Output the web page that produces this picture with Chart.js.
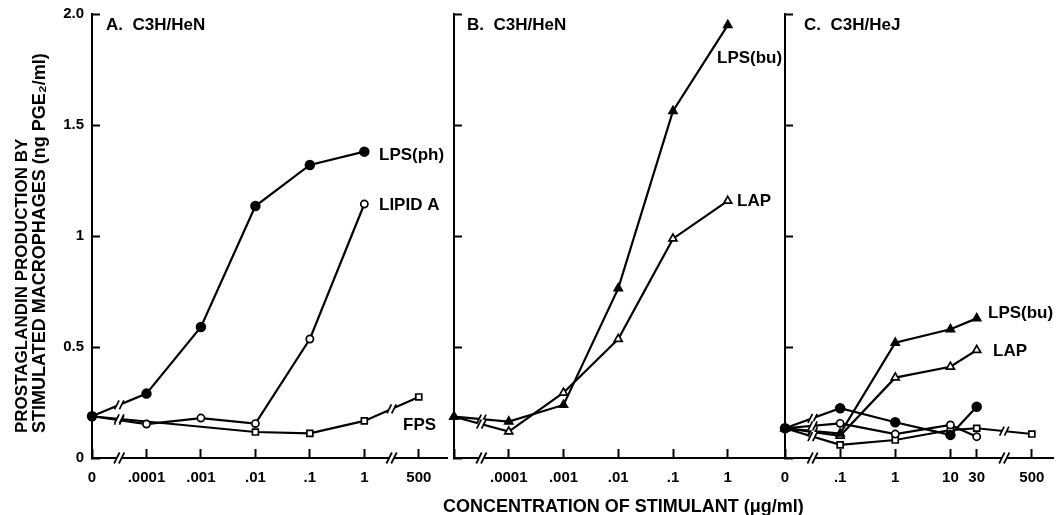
<!DOCTYPE html>
<html><head><meta charset="utf-8">
<script src="https://cdn.jsdelivr.net/npm/chart.js@4.4.0/dist/chart.umd.min.js"></script>
<style>
html,body{margin:0;padding:0;background:#fff;}
#wrap{position:relative;width:1060px;height:515px;overflow:hidden;background:#fff;}
canvas{position:absolute;top:0;}
#xtitle{position:absolute;left:443px;top:496px;width:380px;font:bold 18px "Liberation Sans",Arial,Helvetica,sans-serif;color:#000;white-space:nowrap;line-height:20px;}
</style></head><body>
<div id="wrap">
<canvas id="cA" style="left:0px;width:454px;height:515px" width="454" height="515"></canvas>
<canvas id="cB" style="left:444px;width:351px;height:515px" width="351" height="515"></canvas>
<canvas id="cC" style="left:775px;width:285px;height:515px" width="285" height="515"></canvas>
<div id="xtitle">CONCENTRATION OF STIMULANT (μg/ml)</div>
</div>
<script>
// ---------- data ----------
const concA = [0, 0.0001, 0.001, 0.01, 0.1, 1, 500];
const labelsA = ['0', '.0001', '.001', '.01', '.1', '1', '500'];
const lpsPhA = [0.188, 0.29, 0.59, 1.135, 1.32, 1.38, null];
const lipidAA = [0.188, 0.153, 0.18, 0.155, 0.536, 1.144, null];
const fpsA = [0.188, null, null, 0.117, 0.111, 0.167, 0.275];

const concB = [0, 0.0001, 0.001, 0.01, 0.1, 1];
const labelsB = ['', '.0001', '.001', '.01', '.1', '1'];
const lpsBuB = [0.186, 0.164, 0.239, 0.764, 1.563, 1.95];
const lapB = [0.186, 0.119, 0.294, 0.536, 0.988, 1.158];

const concC = [0, 0.1, 1, 10, 30, 500];
const labelsC = ['0', '.1', '1', '10', '30', '500'];
const lpsBuC = [0.134, 0.11, 0.519, 0.58, 0.629, null];
const lapC = [0.134, 0.10, 0.362, 0.411, 0.486, null];
const lpsPhC = [0.134, 0.224, 0.161, 0.104, 0.231, null];
const lipidAC = [0.134, 0.156, 0.108, 0.149, 0.096, null];
const fpsC = [0.134, 0.059, 0.081, 0.126, 0.134, 0.108];

const yTicks = [0, 0.5, 1, 1.5, 2];
const yTickLabels = ['0', '0.5', '1', '1.5', '2.0'];
const yTitle = ['PROSTAGLANDIN PRODUCTION BY', 'STIMULATED MACROPHAGES (ng PGE\u2082/ml)'];

// ---------- axis helpers (broken log axis) ----------
const BREAK_VALUE = 500;
function axisPositions(conc){
  const logs = conc.filter(c => c > 0 && c < BREAK_VALUE).map(c => Math.log10(c));
  const first = Math.min(...logs), last = Math.max(...logs);
  return conc.map(c => c === 0 ? first - 1 : (c >= BREAK_VALUE ? last + 1 : Math.log10(c)));
}
function axisBreaks(conc, pos){
  const br = [(pos[0] + pos[1]) / 2];
  const i = conc.indexOf(BREAK_VALUE);
  if (i > 0) br.push((pos[i - 1] + pos[i]) / 2);
  return br;
}

Chart.defaults.color = '#000';
const FONT = '"Liberation Sans", Arial, Helvetica, sans-serif';
const TICK_COLOR = '#000';

const STY = {
  filledCircle: {pointStyle: 'circle', pointRadius: 4.4, pointBackgroundColor: '#000'},
  openCircle: {pointStyle: 'circle', pointRadius: 3.6, pointBackgroundColor: '#fff'},
  openSquare: {pointStyle: 'rect', pointRadius: 4.2, pointBackgroundColor: '#fff'},
  filledTri: {pointStyle: 'triangle', pointRadius: 4.6, pointBackgroundColor: '#000'},
  openTri: {pointStyle: 'triangle', pointRadius: 4.6, pointBackgroundColor: '#fff'}
};

function makeDataset(pos, vals, style){
  return Object.assign({
    data: pos.map((p, i) => ({x: p, y: vals[i]})),
    borderColor: '#000', borderWidth: 2.2, pointBorderColor: '#000', pointBorderWidth: 1.7,
    spanGaps: true, clip: false, tension: 0, showLine: true
  }, style);
}

function seg(ctx, x1, y1, x2, y2){ ctx.beginPath(); ctx.moveTo(x1, y1); ctx.lineTo(x2, y2); ctx.stroke(); }
function drawBreak(ctx, bx, y, h){
  const g = 2.4, s = h * 0.5;
  ctx.fillStyle = '#fff';
  ctx.beginPath();
  ctx.moveTo(bx - g - s, y + h); ctx.lineTo(bx - g + s, y - h);
  ctx.lineTo(bx + g + s, y - h); ctx.lineTo(bx + g - s, y + h);
  ctx.closePath(); ctx.fill();
  seg(ctx, bx - g - s, y + h, bx - g + s, y - h);
  seg(ctx, bx + g - s, y + h, bx + g + s, y - h);
}

function makeDecor(breaks, texts, title){
  return {
    id: 'decor',
    afterDraw(chart){
      const ctx = chart.ctx, xs = chart.scales.x, ca = chart.chartArea;
      ctx.save();
      ctx.strokeStyle = '#000';
      ctx.lineWidth = 1.7;
      breaks.forEach(bp => {
        const bx = xs.getPixelForValue(bp);
        chart.data.datasets.forEach((ds, di) => {
          const meta = chart.getDatasetMeta(di);
          const pts = meta.data.filter((p, i) => ds.data[i].y !== null);
          for (let k = 0; k < pts.length - 1; k++){
            const a = pts[k], b = pts[k + 1];
            if (a.x < bx && b.x > bx){
              const y = a.y + (b.y - a.y) * (bx - a.x) / (b.x - a.x);
              drawBreak(ctx, bx, y, 4.5);
            }
          }
        });
        drawBreak(ctx, bx, ca.bottom, 5.5);
      });
      ctx.fillStyle = '#000';
      ctx.textBaseline = 'middle';
      ctx.textAlign = 'left';
      texts.forEach(t => {
        ctx.font = 'bold ' + t.size + 'px ' + FONT;
        ctx.fillText(t.text, t.x, t.y);
      });
      if (title){
        title.forEach((s, i) => {
          ctx.save();
          ctx.font = 'bold ' + (i === 0 ? 17 : 18) + 'px ' + FONT;
          ctx.translate(i === 0 ? 22 : 40, 433);
          ctx.rotate(-Math.PI / 2);
          ctx.fillText(s, 0, 0);
          ctx.restore();
        });
      }
      ctx.restore();
    }
  };
}

function buildChart(id, conc, labels, datasets, opt){
  const pos = axisPositions(conc);
  const ds = datasets.map(d => makeDataset(pos, d[0], d[1]));
  return new Chart(document.getElementById(id), {
    type: 'scatter',
    data: {datasets: ds},
    plugins: [makeDecor(axisBreaks(conc, pos), opt.texts, opt.yTitle)],
    options: {
      responsive: false, animation: false, devicePixelRatio: 1,
      layout: {padding: {top: 14, left: 0, right: opt.padRight, bottom: 0}},
      plugins: {legend: {display: false}, tooltip: {enabled: false}},
      scales: {
        x: {
          type: 'linear', min: pos[0], max: pos[0] + opt.span,
          afterBuildTicks: s => { s.ticks = pos.map(v => ({value: v})); },
          afterFit: s => { s.height = 57; s.paddingLeft = 0; s.paddingRight = 0; },
          ticks: {
            autoSkip: false, maxRotation: 0, padding: 20,
            font: {family: FONT, size: 15, weight: 'bold'},
            callback: (v) => { const i = pos.findIndex(p => Math.abs(p - v) < 1e-9); return i >= 0 ? labels[i] : ''; }
          },
          grid: {display: true, drawOnChartArea: false, drawTicks: true, tickLength: -9,
                 tickWidth: 2, tickColor: TICK_COLOR, color: TICK_COLOR},
          border: {display: true, color: '#000', width: 2}
        },
        y: {
          min: 0, max: 2,
          afterBuildTicks: s => { s.ticks = yTicks.map(v => ({value: v})); },
          afterFit: s => { s.width = opt.yWidth; s.paddingTop = 0; s.paddingBottom = 0; },
          ticks: {
            display: opt.yLabels, padding: 16,
            font: {family: FONT, size: 15, weight: 'bold'},
            callback: (v) => { const i = yTicks.indexOf(v); return i >= 0 ? yTickLabels[i] : ''; }
          },
          grid: {display: true, drawOnChartArea: false, drawTicks: true, tickLength: -8,
                 tickWidth: 2, tickColor: TICK_COLOR, color: TICK_COLOR},
          border: {display: true, color: '#000', width: 2}
        }
      }
    }
  });
}

buildChart('cA', concA, labelsA, [
  [lpsPhA, STY.filledCircle],
  [lipidAA, STY.openCircle],
  [fpsA, STY.openSquare]
], {
  padRight: 0, yWidth: 92, yLabels: true, span: 362 / 55.4, yTitle: yTitle,
  texts: [
    {text: 'A.  C3H/HeN', x: 106, y: 25, size: 17},
    {text: 'LPS(ph)', x: 379, y: 155, size: 17},
    {text: 'LIPID A', x: 379, y: 205, size: 17},
    {text: 'FPS', x: 403, y: 425, size: 17}
  ]
});

buildChart('cB', concB, labelsB, [
  [lpsBuB, STY.filledTri],
  [lapB, STY.openTri]
], {
  padRight: 10, yWidth: 10, yLabels: false, span: 331 / 54.75,
  texts: [
    {text: 'B.  C3H/HeN', x: 23, y: 25, size: 17},
    {text: 'LPS(bu)', x: 273, y: 58, size: 17},
    {text: 'LAP', x: 293, y: 201, size: 17}
  ]
});

buildChart('cC', concC, labelsC, [
  [lpsBuC, STY.filledTri],
  [lapC, STY.openTri],
  [lpsPhC, STY.filledCircle],
  [lipidAC, STY.openCircle],
  [fpsC, STY.openSquare]
], {
  padRight: 5, yWidth: 10, yLabels: false, span: 270 / 55.4,
  texts: [
    {text: 'C.  C3H/HeJ', x: 29, y: 25, size: 17},
    {text: 'LPS(bu)', x: 213, y: 313, size: 17},
    {text: 'LAP', x: 218, y: 351, size: 17}
  ]
});
</script>
</body></html>
